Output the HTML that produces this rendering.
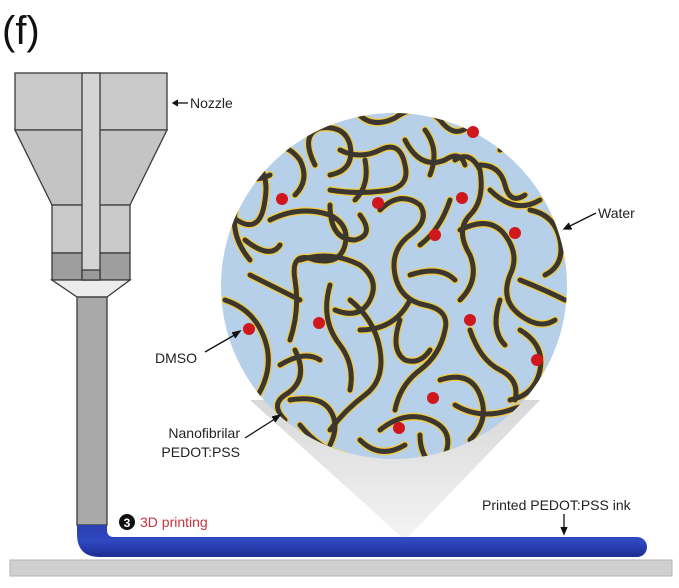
<!DOCTYPE html>
<html><head><meta charset="utf-8"><style>
html,body{margin:0;padding:0;background:#fff;}
svg{display:block;}
text{font-family:"Liberation Sans",Arial,sans-serif;}
</style></head><body>
<svg width="679" height="588" viewBox="0 0 679 588">
<defs>
<clipPath id="cc"><circle cx="394" cy="286" r="173"/></clipPath>
<linearGradient id="cone" x1="0" y1="0" x2="0" y2="1"><stop offset="0" stop-color="#d8d8d8"/><stop offset="1" stop-color="#f4f4f4"/></linearGradient>
<linearGradient id="ink" x1="0" y1="0" x2="0" y2="1"><stop offset="0" stop-color="#2a3fb0"/><stop offset="0.5" stop-color="#2f48c0"/><stop offset="1" stop-color="#1d2d90"/></linearGradient>
<g id="fy">
<path d="M355,110 Q370,130 395,118 Q420,100 440,120 Q455,140 470,125"/>
<path d="M315,165 Q300,135 320,128 Q345,125 350,145 Q355,170 330,175"/>
<path d="M340,150 Q360,160 380,150 Q400,140 405,165 Q410,185 390,190 Q360,195 330,190"/>
<path d="M405,140 Q420,170 445,160 Q460,150 465,165"/>
<path d="M455,160 Q470,150 480,170 Q485,200 470,215 Q455,230 470,255 Q480,280 460,300"/>
<path d="M480,165 Q500,165 505,185 Q510,205 525,195"/>
<path d="M500,150 Q520,140 540,150"/>
<path d="M230,215 Q260,240 265,200 Q270,170 250,160"/>
<path d="M270,220 Q300,205 330,215 Q350,225 345,245 Q340,265 315,260 Q290,250 295,280 Q300,310 290,340"/>
<path d="M245,240 Q270,260 280,245"/>
<path d="M330,205 Q330,240 355,240 Q375,235 360,215"/>
<path d="M380,210 Q400,190 420,205 Q430,220 410,235 Q390,250 395,275 Q400,300 425,305 Q450,310 445,330 Q440,355 420,370 Q400,385 395,410"/>
<path d="M250,275 Q280,290 300,300"/>
<path d="M225,300 Q255,310 265,340 Q275,370 255,400 Q240,420 255,440"/>
<path d="M300,260 Q330,250 360,265 Q380,280 370,300 Q360,320 335,310"/>
<path d="M330,285 Q320,320 340,345 Q355,365 350,390"/>
<path d="M350,300 Q375,320 380,350 Q385,380 365,395 Q345,410 330,430"/>
<path d="M295,350 Q310,380 285,395 Q270,405 285,420"/>
<path d="M290,400 Q320,395 330,410 Q340,425 330,445"/>
<path d="M400,320 Q390,350 405,360 Q420,365 430,350"/>
<path d="M410,275 Q440,265 455,280"/>
<path d="M460,230 Q490,215 505,235 Q520,255 510,275 Q500,300 520,315 Q540,330 555,320"/>
<path d="M530,210 Q555,215 560,240 Q565,265 545,275"/>
<path d="M470,330 Q480,360 500,370 Q520,380 515,400"/>
<path d="M440,380 Q470,370 480,395 Q490,420 470,440"/>
<path d="M500,300 Q490,330 505,345"/>
<path d="M520,330 Q545,345 540,370 Q535,395 510,400"/>
<path d="M450,200 Q440,230 420,245"/>
<path d="M380,430 Q405,410 430,420 Q455,430 445,455"/>
<path d="M230,170 Q250,185 270,175"/>
<path d="M535,175 Q545,195 560,190"/>
<path d="M265,150 Q285,140 300,160 Q310,180 295,195"/>
<path d="M240,195 Q225,230 250,260"/>
<path d="M360,440 Q380,460 405,445"/>
<path d="M300,425 Q320,450 345,455"/>
<path d="M520,280 Q545,290 565,300"/>
<path d="M425,130 Q440,150 430,175"/>
<path d="M360,330 Q395,330 410,300"/>
<path d="M455,405 Q480,420 510,410 Q535,400 550,420"/>
<path d="M280,365 Q305,350 320,360"/>
<path d="M365,160 Q370,185 355,200"/>
<path d="M490,190 Q515,215 540,200"/>
<path d="M420,435 Q420,460 440,470"/>
</g>
</defs>
<text x="2" y="44" font-size="40" fill="#111">(f)</text>

<rect x="10" y="560" width="662" height="16" fill="#cfcfcf" stroke="#b5b5b5"/>
<polygon points="250,400 540,400 405,540" fill="url(#cone)"/>

<g stroke="#3a3a3a" stroke-width="1.3">
<rect x="15" y="73" width="152" height="57" fill="#c9c9c9"/>
<polygon points="15,130 167,130 130,205 52,205" fill="#c4c4c4"/>
<rect x="52" y="205" width="78" height="48" fill="#cacaca"/>
<rect x="52" y="253" width="78" height="27" fill="#9e9e9e"/>
<polygon points="52,280 130,280 107,297 77,297" fill="#ececec"/>
<rect x="82" y="73" width="18" height="207" fill="#d4d4d4"/>
<rect x="82" y="270" width="18" height="10" fill="#9a9a9a"/>
<rect x="77" y="297" width="30" height="228" fill="#a9a9a9"/>
</g>
<path d="M77,525 L107,525 L107,530 Q107,537 114,537 L637,537 A10,10 0 0 1 637,557 L100,557 Q77,557 77,534 Z" fill="url(#ink)"/>

<g>
<circle cx="394" cy="286" r="173" fill="#b7d0e9"/>
<g clip-path="url(#cc)" fill="none" stroke-linecap="round">
<use href="#fy" stroke="#f1c93a" stroke-width="7.5"/>
<use href="#fy" stroke="#3b3630" stroke-width="5"/>
</g>
<g fill="#d0181c">
<circle cx="282" cy="199" r="6"/><circle cx="378" cy="203" r="6"/><circle cx="462" cy="198" r="6"/>
<circle cx="435" cy="235" r="6"/><circle cx="515" cy="233" r="6"/><circle cx="249" cy="329" r="6"/>
<circle cx="319" cy="323" r="6"/><circle cx="470" cy="320" r="6"/><circle cx="537" cy="360" r="6"/>
<circle cx="433" cy="398" r="6"/><circle cx="399" cy="428" r="6"/><circle cx="473" cy="132" r="6"/>
</g>
</g>

<g stroke="#111" stroke-width="1.3" fill="none">
<line x1="174" y1="103" x2="188" y2="103"/><path d="M178,100 L173,103 L178,106" fill="#111"/>
<line x1="596" y1="213" x2="566" y2="228"/><path d="M569,223 L564,229 L572,229" fill="#111"/>
<line x1="205" y1="352" x2="238" y2="333"/><path d="M232,333 L240,331 L235,338" fill="#111"/>
<line x1="245" y1="438" x2="278" y2="417"/><path d="M272,417 L280,415 L275,422" fill="#111"/>
<line x1="564" y1="514" x2="564" y2="532"/><path d="M561,527 L564,534 L567,527" fill="#111"/>
</g>
<text x="190" y="108" font-size="14" fill="#222">Nozzle</text>
<text x="598" y="218" font-size="14" fill="#222">Water</text>
<text x="155" y="363" font-size="14" fill="#222">DMSO</text>
<text x="240" y="438" font-size="14" fill="#222" text-anchor="end">Nanofibrilar</text>
<text x="240" y="457" font-size="14" fill="#222" text-anchor="end">PEDOT:PSS</text>
<text x="482" y="510" font-size="14" fill="#222">Printed PEDOT:PSS ink</text>
<circle cx="127" cy="522" r="8" fill="#111"/>
<text x="127" y="527" font-size="12" font-weight="bold" fill="#fff" text-anchor="middle">3</text>
<text x="140" y="527" font-size="14" fill="#c8333f">3D printing</text>
</svg>
</body></html>
